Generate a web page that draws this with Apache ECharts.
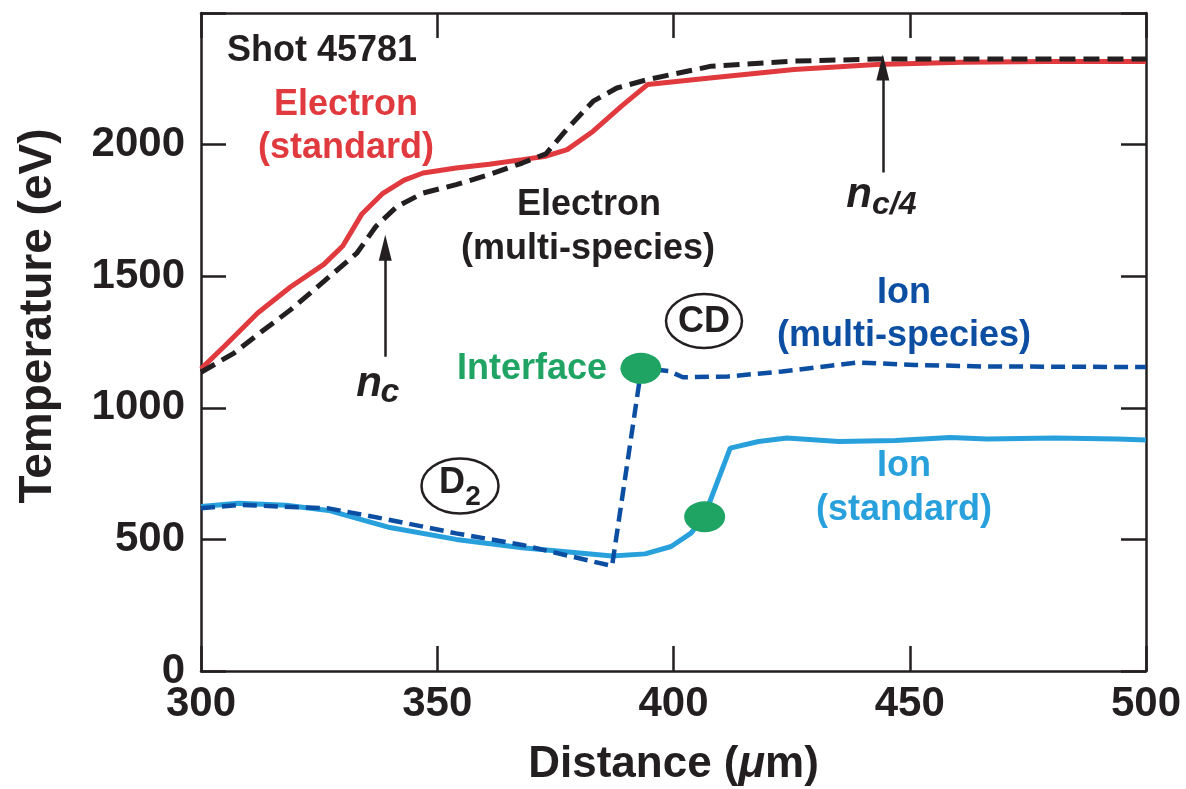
<!DOCTYPE html>
<html>
<head>
<meta charset="utf-8">
<script src="https://cdn.jsdelivr.net/npm/echarts@6/dist/echarts.min.js"></script>
<style>
html,body{margin:0;padding:0;background:#fff;}
#chart{width:1186px;height:789px;}
</style>
</head>
<body>
<div id="chart"></div>
<script>
// ---- data (Distance in um, Temperature in eV) ----
const xTicks = [300, 350, 400, 450, 500];
const yTicks = [0, 500, 1000, 1500, 2000];

const electronStandard = [
  [300,1148],[305,1235],[312,1360],[319,1460],[326,1545],[330,1615],[334,1735],
  [338.5,1815],[343,1865],[347,1892],[354,1911],[361,1925],[368,1943],[373,1956],
  [377.5,1981],[383,2051],[389,2146],[394.5,2228],[407.7,2253],[425.5,2285],
  [443,2304],[461,2313],[479,2316],[500,2316]
];
const electronMulti = [
  [300,1135],[307,1208],[312,1278],[319,1373],[326,1480],[333,1588],[337,1689],
  [341.5,1765],[347,1816],[354,1848],[361,1886],[368,1930],[373,1965],[377.5,2060],
  [383,2165],[388,2215],[394.5,2247],[408,2298],[425,2317],[443,2325],[500,2325]
];
const ionMulti = [
  [300,618],[308,631],[327,618],[340,574],[354,523],[368,479],[387,399],
  [393.2,1150],[399,1140],[402,1116],[411.5,1119],[423,1138],[439,1172],
  [451,1163],[466,1157],[500,1155]
];
const ionStandard = [
  [300,625],[308,637],[318,630],[327,610],[333,580],[340,545],[354,500],[368,468],
  [387,437],[394,445],[399.5,473],[403.7,524],[406.5,587],[412,847],[418,872],
  [424,885],[435,872],[447,876],[458.6,887],[466.4,881],[480.6,885],[494,881],[500,878]
];
const interfacePoints = [[393.1,1150],[406.6,586]];
// arrows: [x, yStart, yTip]
const arrowNc = [339, 1194, 1608];
const arrowNc4 = [444.3, 1894, 2293];

// ---- styles ----
const FONT = '"Liberation Sans", Arial, Helvetica, sans-serif';
const INK = '#231f20';
const RED = '#e03a3e';
const DBLUE = '#0b4ea2';
const LBLUE = '#27a0dc';
const GREEN = '#1fa463';

const chart = echarts.init(document.getElementById('chart'), null, {renderer:'canvas'});

function frameAxis(pos, isX, showLabel) {
  return {
    type: 'value',
    position: pos,
    min: isX ? 300 : 0,
    max: isX ? 500 : 2500,
    interval: isX ? 50 : 500,
    axisLine: {show: true, onZero: false, lineStyle: {color: INK, width: 2.5}},
    axisTick: {show: true, inside: true, length: 25, lineStyle: {color: INK, width: 2.5}},
    splitLine: {show: false},
    axisLabel: {
      show: showLabel,
      fontFamily: FONT, fontWeight: 'bold', fontSize: 42, color: INK,
      margin: isX ? 12 : 16,
      formatter: function (v) { return (isX ? xTicks : yTicks).indexOf(v) >= 0 ? String(v) : ''; }
    }
  };
}

const xBottom = frameAxis('bottom', true, true);
xBottom.name = 'Distance ({mu|μ}m)';
xBottom.nameLocation = 'middle';
xBottom.nameGap = 72;
xBottom.nameTextStyle = {
  fontFamily: FONT, fontWeight: 'bold', fontSize: 44, color: INK,
  rich: {mu: {fontFamily: FONT, fontWeight: 'bold', fontStyle: 'italic', fontSize: 44, color: INK}}
};

const option = {
  animation: false,
  backgroundColor: '#fff',
  grid: {left: 201, right: 40, top: 13, bottom: 118, containLabel: false, outerBoundsMode: 'none'},
  xAxis: [xBottom, frameAxis('top', true, false)],
  yAxis: [frameAxis('left', false, true), frameAxis('right', false, false)],
  series: [
    {type: 'line', data: electronStandard, showSymbol: false, z: 2,
     lineStyle: {color: RED, width: 5}},
    {type: 'line', data: ionStandard, showSymbol: false, z: 2,
     lineStyle: {color: LBLUE, width: 5}},
    {type: 'line', data: electronMulti, showSymbol: false, z: 3,
     lineStyle: {color: INK, width: 5, type: [16, 8]},
     markLine: {
       silent: true, animation: false,
       symbol: ['none', 'triangle'], symbolSize: [13, 26],
       label: {show: false},
       lineStyle: {color: INK, width: 2.5, type: 'solid'},
       data: [
         [{coord: [arrowNc[0], arrowNc[1]]}, {coord: [arrowNc[0], arrowNc[2]]}],
         [{coord: [arrowNc4[0], arrowNc4[1]]}, {coord: [arrowNc4[0], arrowNc4[2]]}]
       ]
     }},
    {type: 'line', data: ionMulti, showSymbol: false, z: 3,
     lineStyle: {color: DBLUE, width: 4.5, type: [14, 7]}},
    {type: 'scatter', data: interfacePoints, symbol: 'circle', symbolSize: [41, 31], z: 5,
     itemStyle: {color: GREEN, opacity: 1}}
  ],
  graphic: [
    {type: 'text', x: 38, y: 316, rotation: Math.PI / 2, silent: true,
     style: {text: 'Temperature (eV)', font: 'bold 46px ' + FONT, fill: INK, align: 'center', verticalAlign: 'middle'}},
    {type: 'text', x: 322, y: 51, silent: true,
     style: {text: 'Shot 45781', font: 'bold 36px ' + FONT, fill: INK, align: 'center', verticalAlign: 'middle'}},
    {type: 'text', x: 346, y: 105, silent: true,
     style: {text: 'Electron', font: 'bold 36px ' + FONT, fill: RED, align: 'center', verticalAlign: 'middle'}},
    {type: 'text', x: 346, y: 148, silent: true,
     style: {text: '(standard)', font: 'bold 36px ' + FONT, fill: RED, align: 'center', verticalAlign: 'middle'}},
    {type: 'text', x: 589, y: 205, silent: true,
     style: {text: 'Electron', font: 'bold 36px ' + FONT, fill: INK, align: 'center', verticalAlign: 'middle'}},
    {type: 'text', x: 588, y: 249, silent: true,
     style: {text: '(multi-species)', font: 'bold 36px ' + FONT, fill: INK, align: 'center', verticalAlign: 'middle'}},
    {type: 'text', x: 532, y: 369, silent: true,
     style: {text: 'Interface', font: 'bold 36px ' + FONT, fill: GREEN, align: 'center', verticalAlign: 'middle'}},
    {type: 'text', x: 904, y: 293, silent: true,
     style: {text: 'Ion', font: 'bold 36px ' + FONT, fill: DBLUE, align: 'center', verticalAlign: 'middle'}},
    {type: 'text', x: 904, y: 336, silent: true,
     style: {text: '(multi-species)', font: 'bold 36px ' + FONT, fill: DBLUE, align: 'center', verticalAlign: 'middle'}},
    {type: 'text', x: 904, y: 466, silent: true,
     style: {text: 'Ion', font: 'bold 36px ' + FONT, fill: LBLUE, align: 'center', verticalAlign: 'middle'}},
    {type: 'text', x: 904, y: 510, silent: true,
     style: {text: '(standard)', font: 'bold 36px ' + FONT, fill: LBLUE, align: 'center', verticalAlign: 'middle'}},
    // n_c
    {type: 'text', x: 369, y: 384, silent: true,
     style: {text: 'n', font: 'italic bold 42px ' + FONT, fill: INK, align: 'center', verticalAlign: 'middle'}},
    {type: 'text', x: 390, y: 393, silent: true,
     style: {text: 'c', font: 'italic bold 34px ' + FONT, fill: INK, align: 'center', verticalAlign: 'middle'}},
    // n_c/4
    {type: 'text', x: 859, y: 195, silent: true,
     style: {text: 'n', font: 'italic bold 42px ' + FONT, fill: INK, align: 'center', verticalAlign: 'middle'}},
    {type: 'text', x: 872, y: 205, silent: true,
     style: {text: 'c/4', font: 'italic bold 32px ' + FONT, fill: INK, align: 'left', verticalAlign: 'middle'}},
    // CD ellipse
    {type: 'ellipse', shape: {cx: 704, cy: 321, rx: 38, ry: 27}, silent: true,
     style: {fill: 'none', stroke: INK, lineWidth: 2.5}},
    {type: 'text', x: 704, y: 322, silent: true,
     style: {text: 'CD', font: 'bold 36px ' + FONT, fill: INK, align: 'center', verticalAlign: 'middle'}},
    // D2 ellipse
    {type: 'ellipse', shape: {cx: 460, cy: 486, rx: 38.5, ry: 27.5}, silent: true,
     style: {fill: 'none', stroke: INK, lineWidth: 2.5}},
    {type: 'text', x: 452, y: 483, silent: true,
     style: {text: 'D', font: 'bold 36px ' + FONT, fill: INK, align: 'center', verticalAlign: 'middle'}},
    {type: 'text', x: 473, y: 497, silent: true,
     style: {text: '2', font: 'bold 28px ' + FONT, fill: INK, align: 'center', verticalAlign: 'middle'}}
  ]
};
chart.setOption(option);
</script>
</body>
</html>
